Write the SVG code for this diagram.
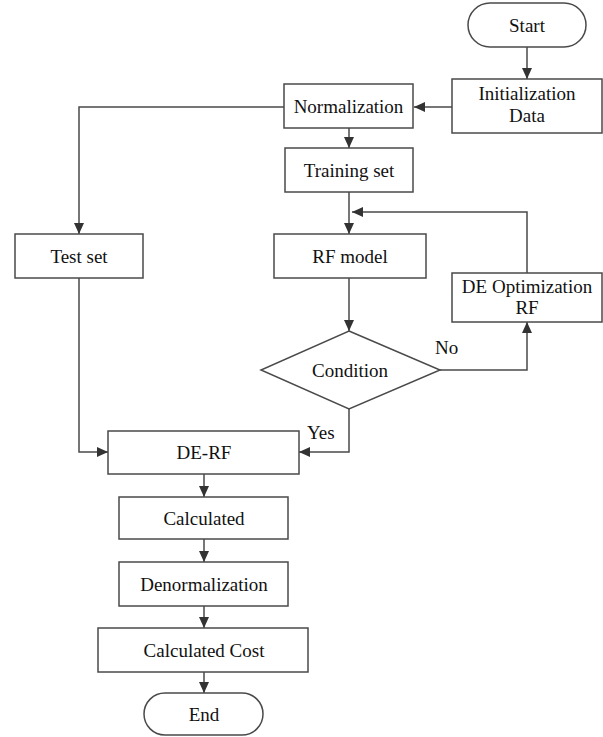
<svg xmlns="http://www.w3.org/2000/svg" width="603" height="737" viewBox="0 0 603 737" font-family="'Liberation Serif', 'DejaVu Serif', serif">
<style>
.box{fill:#fff;stroke:#4a4a4a;stroke-width:1.5}
.ln{fill:none;stroke:#4a4a4a;stroke-width:1.5}
text{font-family:'Liberation Serif','DejaVu Serif',serif;font-size:19px;fill:#111;text-anchor:middle}
.lbl{text-anchor:start}
</style>
<defs>
<marker id="ah" markerUnits="userSpaceOnUse" markerWidth="12" markerHeight="10" refX="11" refY="5" orient="auto">
<path d="M0,0 L11,5 L0,10 Z" fill="#333"/>
</marker>
</defs>
<g id="connectors">
<path class="ln" d="M527,47 V79" marker-end="url(#ah)"/>
<path class="ln" d="M452,107 H414" marker-end="url(#ah)"/>
<path class="ln" d="M284,107 H79 V234" marker-end="url(#ah)"/>
<path class="ln" d="M349,128 V148" marker-end="url(#ah)"/>
<path class="ln" d="M349,192 V234" marker-end="url(#ah)"/>
<path class="ln" d="M527,273 V212 H352" marker-end="url(#ah)"/>
<path class="ln" d="M349,278 V331" marker-end="url(#ah)"/>
<path class="ln" d="M440,370 H527 V322" marker-end="url(#ah)"/>
<path class="ln" d="M349,409 V452 H299" marker-end="url(#ah)"/>
<path class="ln" d="M79,278 V452 H108" marker-end="url(#ah)"/>
<path class="ln" d="M204,474 V497" marker-end="url(#ah)"/>
<path class="ln" d="M204,539 V562" marker-end="url(#ah)"/>
<path class="ln" d="M204,606 V628" marker-end="url(#ah)"/>
<path class="ln" d="M204,672 V693" marker-end="url(#ah)"/>
<text class="lbl" x="435" y="354">No</text>
<text class="lbl" x="307" y="439">Yes</text>
</g>
<g id="start"><rect class="box" x="468" y="3" width="118" height="44" rx="22"/><text x="527" y="32">Start</text></g>
<g id="init"><rect class="box" x="452" y="79" width="150" height="54"/><text x="527" y="100">Initialization</text><text x="527" y="122">Data</text></g>
<g id="normalization"><rect class="box" x="284" y="84" width="129" height="44"/><text x="348.5" y="113">Normalization</text></g>
<g id="training"><rect class="box" x="285" y="148" width="128" height="44"/><text x="349" y="177">Training set</text></g>
<g id="testset"><rect class="box" x="15" y="234" width="128" height="44"/><text x="79" y="263">Test set</text></g>
<g id="rfmodel"><rect class="box" x="274" y="234" width="152" height="44"/><text x="350" y="263">RF model</text></g>
<g id="deopt"><rect class="box" x="452" y="273" width="150" height="49"/><text x="527" y="293">DE Optimization</text><text x="527" y="314">RF</text></g>
<g id="condition"><polygon class="box" points="349,331 440,370 349,409 261,370"/><text x="350" y="377">Condition</text></g>
<g id="derf"><rect class="box" x="108" y="431" width="191" height="43"/><text x="204" y="459">DE-RF</text></g>
<g id="calculated"><rect class="box" x="119" y="497" width="169" height="42"/><text x="204" y="525">Calculated</text></g>
<g id="denorm"><rect class="box" x="119" y="562" width="169" height="44"/><text x="204" y="591">Denormalization</text></g>
<g id="cost"><rect class="box" x="98" y="628" width="210" height="44"/><text x="204" y="657">Calculated Cost</text></g>
<g id="end"><rect class="box" x="144" y="693" width="119" height="42" rx="21"/><text x="204" y="721">End</text></g>
</svg>
